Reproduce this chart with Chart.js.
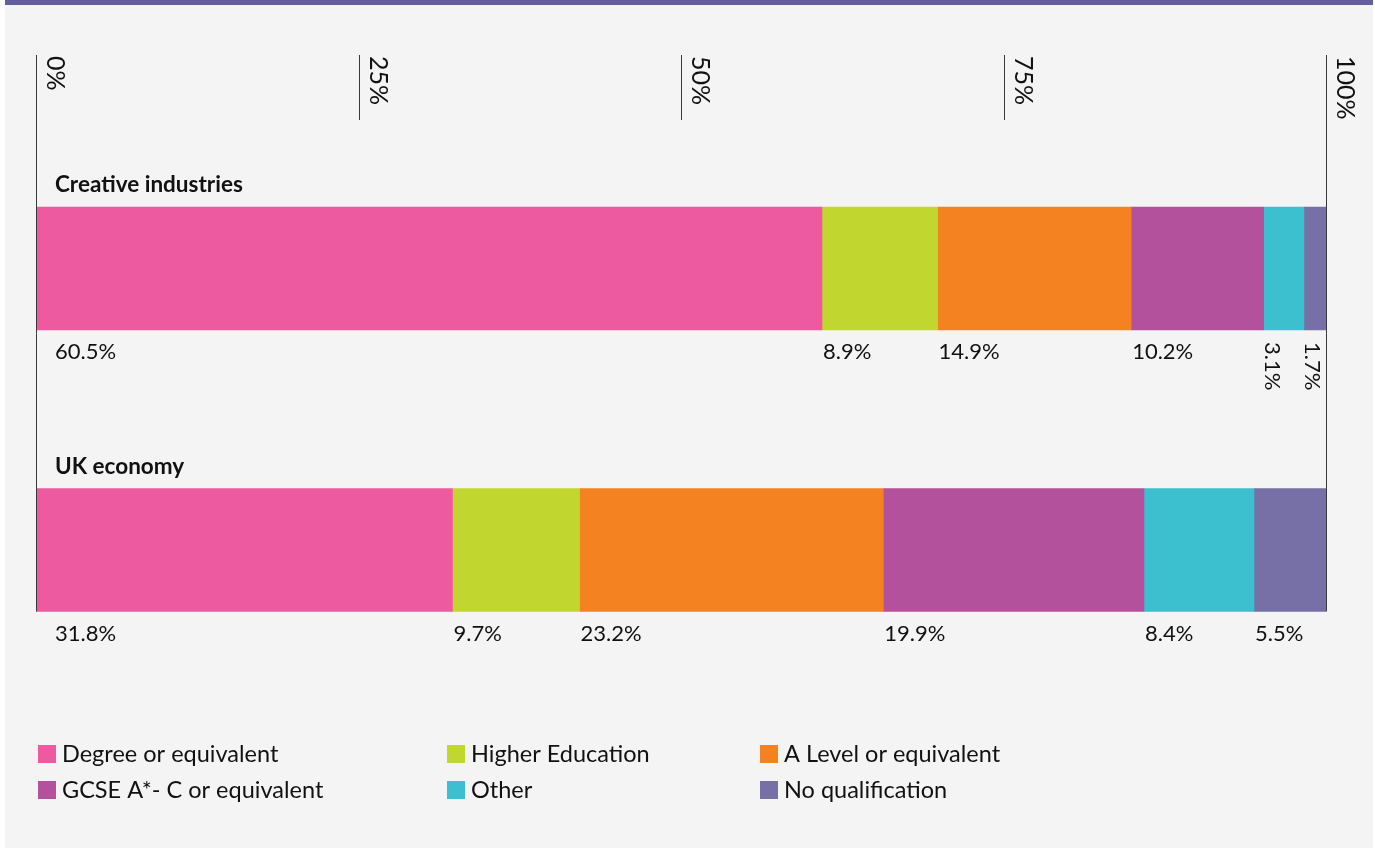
<!DOCTYPE html>
<html>
<head>
<meta charset="utf-8">
<title>Highest qualification held</title>
<script src="https://cdn.jsdelivr.net/npm/chart.js@4/dist/chart.umd.min.js"></script>
<style>
    html, body { margin: 0; padding: 0; background: #ffffff; }
    #panel {
        position: absolute;
        left: 5px; top: 0;
        width: 1368px; height: 848px;
        background: #f4f4f4;
        border-top: 5px solid #645e9c;
        box-sizing: border-box;
    }
    #wrap {
        position: absolute;
        left: 0; top: 0;
        width: 1375px; height: 848px;
    }
</style>
</head>
<body>
<div id="panel"></div>
<div id="wrap"><canvas id="qualifications"></canvas></div>
<script>
const rows = ['Creative industries', 'UK economy'];
const qualifications = [
    'Degree or equivalent',
    'Higher Education',
    'A Level or equivalent',
    'GCSE A*- C or equivalent',
    'Other',
    'No qualification'
];
const creative = [60.5, 8.9, 14.9, 10.2, 3.1, 1.7];
const ukEconomy = [31.8, 9.7, 23.2, 19.9, 8.4, 5.5];
const tickValues = [0, 25, 50, 75, 100];
const colours = [
    '#ee5a9f',
    '#c1d72f',
    '#f58220',
    '#b3519d',
    '#3cbfce',
    '#7670a6'
];

const font = 'Lato, "Open Sans", sans-serif';
const ink = '#111111';

// each row is drawn as a share of its own total so both bars span 0-100
function shares(values) {
    let total = values.reduce((a, b) => a + b, 0);
    return values.map(v => v / total * 100);
}

const creativeShare = shares(creative);
const ukShare = shares(ukEconomy);

function createData() {
    let sets = [];
    qualifications.forEach((name, i) => {
        sets.push({
            label: name,
            data: [creativeShare[i], ukShare[i]],
            raw: [creative[i], ukEconomy[i]],
            backgroundColor: colours[i],
            borderWidth: 0,
            barThickness: 123
        });
    });
    return { labels: rows, datasets: sets };
}

const decorations = {
    id: 'decorations',
    afterDatasetsDraw(chart) {
        const ctx = chart.ctx;
        const x = chart.scales.x;
        const firstBar = chart.getDatasetMeta(0).data[0];
        const lastBar = chart.getDatasetMeta(0).data[1];
        const axisBottom = lastBar.y + lastBar.height / 2;

        ctx.save();

        // top scale: short ticks, full-height rules at 0% and 100%
        ctx.strokeStyle = '#3a3a3a';
        ctx.lineWidth = 1;
        tickValues.forEach(v => {
            let px = Math.round(x.getPixelForValue(v)) + 0.5;
            let end = (v === 0 || v === 100) ? axisBottom : 120;
            ctx.beginPath();
            ctx.moveTo(px, 55);
            ctx.lineTo(px, end);
            ctx.stroke();

            ctx.save();
            ctx.translate(px + 10.5, 56);
            ctx.rotate(Math.PI / 2);
            ctx.fillStyle = ink;
            ctx.font = '25px ' + font;
            ctx.textAlign = 'left';
            ctx.textBaseline = 'alphabetic';
            ctx.fillText(v + '%', 0, 0);
            ctx.restore();
        });

        // row titles
        ctx.fillStyle = ink;
        ctx.font = 'bold 22.5px ' + font;
        ctx.textAlign = 'left';
        ctx.textBaseline = 'alphabetic';
        [firstBar, lastBar].forEach((bar, i) => {
            ctx.fillText(rows[i], 55, bar.y - bar.height / 2 - 15);
        });

        // value labels under each segment
        ctx.font = '22px ' + font;
        chart.data.datasets.forEach((ds, d) => {
            chart.getDatasetMeta(d).data.forEach((bar, r) => {
                let text = ds.raw[r].toFixed(1) + '%';
                let left = Math.min(bar.base, bar.x);
                let width = Math.abs(bar.x - bar.base);
                let bottom = bar.y + bar.height / 2;
                if (width < 50) {
                    ctx.save();
                    ctx.translate(left + 1, bottom + 12);
                    ctx.rotate(Math.PI / 2);
                    ctx.textBaseline = 'alphabetic';
                    ctx.fillText(text, 0, 0);
                    ctx.restore();
                } else {
                    let lx = d === 0 ? left + 19 : left + 1;
                    ctx.fillText(text, lx, bottom + 29);
                }
            });
        });

        ctx.restore();
    },
    afterDraw(chart) {
        const ctx = chart.ctx;
        const columns = [38, 447, 760];
        const lines = [745, 781];
        ctx.save();
        ctx.font = '23.5px ' + font;
        ctx.textAlign = 'left';
        ctx.textBaseline = 'middle';
        chart.data.datasets.forEach((ds, i) => {
            let cx = columns[i % 3];
            let cy = lines[Math.floor(i / 3)];
            ctx.fillStyle = ds.backgroundColor;
            ctx.fillRect(cx, cy, 18, 18);
            ctx.fillStyle = ink;
            ctx.fillText(ds.label, cx + 24, cy + 9);
        });
        ctx.restore();
    }
};

let ctx = document.getElementById('qualifications').getContext('2d');
let myChart = new Chart(ctx, {
    type: 'bar',
    data: createData(),
    plugins: [decorations],
    options: {
        indexAxis: 'y',
        responsive: true,
        maintainAspectRatio: false,
        animation: false,
        layout: {
            padding: { left: 36, right: 49, top: 127.75, bottom: 157.25 }
        },
        scales: {
            x: {
                stacked: true,
                min: 0,
                max: 100,
                display: false
            },
            y: {
                stacked: true,
                display: false
            }
        },
        plugins: {
            legend: { display: false },
            tooltip: { enabled: false }
        }
    }
});
</script>
</body>
</html>
